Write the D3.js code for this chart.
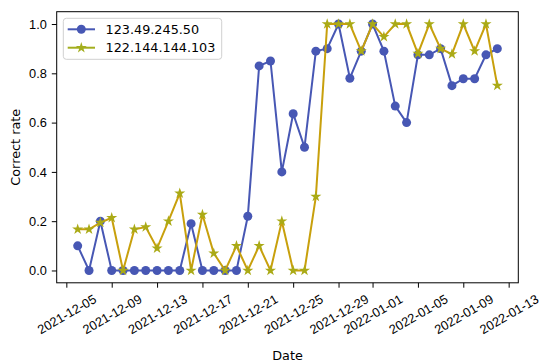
<!DOCTYPE html>
<html>
<head>
<meta charset="utf-8">
<script src="https://cdn.jsdelivr.net/npm/d3@7"></script>
<style>
  body { margin: 0; background: #fff; }
  svg { display: block; font-family: "DejaVu Sans", sans-serif; }
</style>
</head>
<body>
<div id="chartId"></div>
<script>
/*
Data
*/
const dates = [
  "2021-12-06", "2021-12-07", "2021-12-08", "2021-12-09", "2021-12-10", "2021-12-11",
  "2021-12-12", "2021-12-13", "2021-12-14", "2021-12-15", "2021-12-16", "2021-12-17",
  "2021-12-18", "2021-12-19", "2021-12-20", "2021-12-21", "2021-12-22", "2021-12-23",
  "2021-12-24", "2021-12-25", "2021-12-26", "2021-12-27", "2021-12-28", "2021-12-29",
  "2021-12-30", "2021-12-31", "2022-01-01", "2022-01-02", "2022-01-03", "2022-01-04",
  "2022-01-05", "2022-01-06", "2022-01-07", "2022-01-08", "2022-01-09", "2022-01-10",
  "2022-01-11", "2022-01-12"
];
const ip1Values = [
  0.1, 0, 0.2, 0, 0, 0, 0, 0, 0, 0, 0.19, 0, 0, 0, 0, 0.22, 0.83, 0.85,
  0.4, 0.636, 0.5, 0.89, 0.9, 1.0, 0.78, 0.89, 1.0, 0.89, 0.667, 0.6,
  0.875, 0.875, 0.9, 0.75, 0.778, 0.778, 0.875, 0.9
];
const ip2Values = [
  0.167, 0.167, 0.194, 0.214, 0, 0.167, 0.176, 0.09, 0.2, 0.313, 0, 0.227, 0.07, 0, 0.1, 0, 0.1, 0,
  0.2, 0, 0, 0.3, 1.0, 1.0, 1.0, 0.89, 1.0, 0.948, 1.0, 1.0,
  0.88, 1.0, 0.9, 0.878, 1.0, 0.89, 1.0, 0.75
];
const seriesNames = ["123.49.245.50", "122.144.144.103"];
const xTickLabels = [
  "2021-12-05", "2021-12-09", "2021-12-13", "2021-12-17", "2021-12-21", "2021-12-25",
  "2021-12-29", "2022-01-01", "2022-01-05", "2022-01-09", "2022-01-13"
];
const yTicks = [0.0, 0.2, 0.4, 0.6, 0.8, 1.0];

/*
Layout
*/
const width = 550, height = 364;
const plotL = 56.7, plotR = 518.3, plotT = 11.7, plotB = 282.8;
const fontSize = 12.8;
const blue = "#4757b4", goldLine = "#c8a00c", oliveStar = "#aaaa16";

const parse = d3.utcParse("%Y-%m-%d");
const xDates = dates.map(parse);

// matplotlib-style 5% margins
const dMin = d3.min(xDates), dMax = d3.max(xDates);
const span = dMax - dMin;
const x = d3.scaleUtc()
  .domain([new Date(+dMin - span * 0.05), new Date(+dMax + span * 0.05)])
  .range([plotL, plotR]);
const y = d3.scaleLinear().domain([-0.05, 1.05]).range([plotB, plotT]);

const svg = d3.select("#chartId").append("svg")
  .attr("width", width).attr("height", height);

/*
Axes
*/
const xAxis = d3.axisBottom(x)
  .tickValues(xTickLabels.map(parse))
  .tickSize(4.9).tickPadding(4.9)
  .tickFormat(d3.utcFormat("%Y-%m-%d"));

const gx = svg.append("g").attr("transform", `translate(0,${plotB})`).call(xAxis);
gx.select(".domain").remove();
gx.selectAll("line").attr("stroke", "#000").attr("stroke-width", 1);

// rotate labels 30deg, centred on the tick (bbox-aligned like matplotlib)
gx.selectAll("text").each(function() {
  const t = d3.select(this);
  t.attr("font-size", fontSize).attr("fill", "#000")
    .attr("text-anchor", "middle").attr("dy", null)
    .attr("dominant-baseline", "central");
  const w = this.getComputedTextLength();
  const h = fontSize * 0.95;
  const bboxH = w * 0.5 + h * 0.866;
  const cy = 4.9 + 4.9 + bboxH / 2;
  t.attr("x", 0).attr("y", cy).attr("transform", `rotate(-30,0,${cy})`);
});

const yAxis = d3.axisLeft(y)
  .tickValues(yTicks)
  .tickSize(4.9).tickPadding(4.9)
  .tickFormat(d3.format(".1f"));

const gy = svg.append("g").attr("transform", `translate(${plotL},0)`).call(yAxis);
gy.select(".domain").remove();
gy.selectAll("line").attr("stroke", "#000").attr("stroke-width", 1);
gy.selectAll("text").attr("font-size", fontSize).attr("fill", "#000");

svg.append("rect")
  .attr("x", plotL).attr("y", plotT)
  .attr("width", plotR - plotL).attr("height", plotB - plotT)
  .attr("fill", "none").attr("stroke", "#000").attr("stroke-width", 1);

svg.append("text")
  .attr("x", (plotL + plotR) / 2).attr("y", 360)
  .attr("text-anchor", "middle").attr("font-size", fontSize)
  .text("Date");

svg.append("text")
  .attr("transform", `translate(19.5,${(plotT + plotB) / 2}) rotate(-90)`)
  .attr("text-anchor", "middle").attr("font-size", fontSize)
  .text("Correct rate");

/*
Series
*/
const line = d3.line()
  .x((d, i) => x(xDates[i]))
  .y(d => y(d));

const star = d3.symbol().type(d3.symbolStar).size(38);

const g1 = svg.append("g");
g1.append("path").datum(ip1Values)
  .attr("d", line).attr("fill", "none")
  .attr("stroke", blue).attr("stroke-width", 2);
g1.selectAll("circle").data(ip1Values).enter()
  .append("circle")
  .attr("cx", (d, i) => x(xDates[i]))
  .attr("cy", d => y(d))
  .attr("r", 4.5)
  .attr("fill", blue);

const g2 = svg.append("g");
g2.append("path").datum(ip2Values)
  .attr("d", line).attr("fill", "none")
  .attr("stroke", goldLine).attr("stroke-width", 2);
g2.selectAll("path.star").data(ip2Values).enter()
  .append("path").classed("star", true)
  .attr("d", star)
  .attr("transform", (d, i) => `translate(${x(xDates[i])},${y(d)})`)
  .attr("fill", oliveStar);

/*
Legend
*/
const legend = svg.append("g");
legend.append("rect")
  .attr("x", 63.3).attr("y", 18.3)
  .attr("width", 158.4).attr("height", 41)
  .attr("rx", 3)
  .attr("fill", "#fff").attr("fill-opacity", 0.8)
  .attr("stroke", "#d0d0d0").attr("stroke-width", 1);

const legendRows = [
  { name: seriesNames[0], color: blue, marker: "circle", y: 29.3 },
  { name: seriesNames[1], color: "#a3ae1e", marker: "star", y: 47.7 }
];
legendRows.forEach(r => {
  legend.append("line")
    .attr("x1", 67.7).attr("x2", 95)
    .attr("y1", r.y).attr("y2", r.y)
    .attr("stroke", r.color).attr("stroke-width", 2);
  if (r.marker == "circle") {
    legend.append("circle").attr("cx", 81.3).attr("cy", r.y).attr("r", 4.5).attr("fill", r.color);
  } else {
    legend.append("path").attr("d", star)
      .attr("transform", `translate(81.3,${r.y})`).attr("fill", r.color);
  }
  legend.append("text")
    .attr("x", 105.5).attr("y", r.y)
    .attr("dominant-baseline", "central")
    .attr("font-size", fontSize)
    .text(r.name);
});
</script>
</body>
</html>
